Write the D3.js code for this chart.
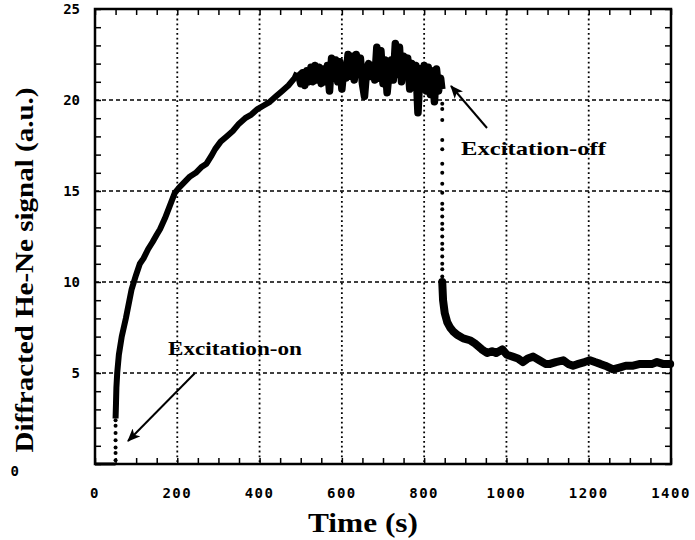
<!DOCTYPE html>
<html>
<head>
<meta charset="utf-8">
<script src="https://cdn.jsdelivr.net/npm/d3@7"></script>
<style>
  body { margin: 0; background: #fff; }
</style>
</head>
<body>
<svg id="chart" width="695" height="540"></svg>
<script>
// tick labels
const xTicks = [0, 200, 400, 600, 800, 1000, 1200, 1400];
const yTicks = [0, 5, 10, 15, 20, 25];

// signal before the excitation is switched on
const preTime = [0, 15, 30, 45, 50];
const preSignal = [0, 0, 0, 0, 0];

// dotted jump when the excitation starts
const onDotsTime = [50, 50, 50, 50, 50, 50, 50];
const onDotsSignal = [0.2, 0.6, 0.9, 1.3, 1.7, 2.1, 2.4];

// rise while excitation is on
const riseTime = [50, 51, 52, 54, 58, 65, 75, 89, 100, 109, 118, 129, 140, 150, 158, 170, 182, 194,
    205, 218, 231, 245, 258, 271, 282, 292, 305, 320, 335, 350, 365, 380, 395, 410, 425,
    440, 455, 470, 485, 491];
const riseSignal = [2.5, 3.3, 4.2, 5.0, 6.0, 7.0, 8.0, 9.6, 10.4, 11.0, 11.3, 11.8, 12.2, 12.6, 12.9, 13.5, 14.2, 14.9,
    15.2, 15.5, 15.8, 16.0, 16.3, 16.5, 16.9, 17.3, 17.7, 18.0, 18.3, 18.7, 19.0, 19.2, 19.5, 19.7, 19.9,
    20.2, 20.5, 20.8, 21.2, 21.5];

// noisy plateau
const plateauTime = [491, 495, 500, 505, 510, 515, 520, 525, 530, 535, 540, 545, 550, 555, 560, 565, 570, 575,
    580, 585, 590, 595, 600, 605, 610, 615, 620, 625, 630, 635, 640, 645, 650, 655, 660,
    665, 670, 675, 680, 685, 690, 695, 700, 705, 710, 715, 720, 725, 730, 735, 740, 745,
    750, 755, 760, 765, 770, 775, 780, 785, 790, 795, 800, 805, 810, 815, 820, 825, 830,
    835, 840, 843];
const plateauSignal = [21.5,
    21.4, 20.9, 21.5, 20.8, 21.6, 21.0, 21.8, 21.0, 21.9, 21.1, 21.8, 20.9, 21.7, 21.0, 21.9, 20.5, 22.3,
    21.2, 22.2, 21.0, 22.1, 20.6, 21.8, 21.2, 22.5, 21.3, 22.4, 21.1, 22.5, 21.4, 22.3, 20.9, 20.2, 21.6,
    22.0, 21.3, 21.9, 21.1, 22.9, 21.2, 22.7, 20.9, 22.2, 20.4, 21.6, 22.2, 21.1, 23.1, 21.4, 22.9, 21.0,
    22.4, 21.3, 22.3, 20.6, 22.0, 21.2, 21.9, 19.3, 21.7, 20.8, 21.9, 20.5, 21.8, 20.3, 21.6, 19.9, 21.7,
    20.5, 21.2, 20.6];

// dotted drop when the excitation is switched off
const offDotsTime = [844, 844, 844, 844, 844, 844, 844, 844, 844, 844, 844, 844, 844, 844, 844, 844, 844, 844, 844, 844, 844];
const offDotsSignal = [19.8, 19.5, 18.9, 17.8, 17.3, 16.5, 16.0, 15.4, 14.9, 14.3, 14.0, 13.6, 13.2, 12.9,
    12.5, 12.1, 11.8, 11.4, 11.0, 10.7, 10.3];

// decay after the excitation
const decayTime = [844, 846, 850, 856, 863, 870, 880, 895, 911, 925, 940, 953, 965, 975, 990, 1001,
    1015, 1028, 1040, 1052, 1065, 1080, 1095, 1106, 1120, 1138, 1150, 1162, 1175, 1190, 1203,
    1215, 1228, 1240, 1259, 1275, 1290, 1308, 1325, 1340, 1355, 1366, 1380, 1398];
const decaySignal = [10.0, 9.0, 8.3, 7.8, 7.5, 7.3, 7.1, 6.9, 6.8, 6.6, 6.3, 6.1, 6.2, 6.1, 6.3, 6.0,
    5.9, 5.8, 5.6, 5.8, 5.9, 5.7, 5.5, 5.5, 5.6, 5.7, 5.5, 5.4, 5.5, 5.6, 5.7,
    5.6, 5.5, 5.4, 5.2, 5.3, 5.4, 5.4, 5.5, 5.5, 5.5, 5.6, 5.5, 5.5];

const svg = d3.select('#chart');
const pLeft = 95, pRight = 671, pTop = 9, pBottom = 464;

const x = d3.scaleLinear().domain([0, 1400]).range([pLeft, pRight]);
const y = d3.scaleLinear().domain([0, 25]).range([pBottom, pTop]);

function pairs(ts, vs) {
    return ts.map((t, i) => [t, vs[i]]);
}

// grid
const grid = svg.append('g');
xTicks.slice(1, -1).forEach(t => {
    grid.append('line')
        .attr('x1', x(t)).attr('x2', x(t))
        .attr('y1', pTop).attr('y2', pBottom)
        .attr('stroke', '#000').attr('stroke-width', 1.8)
        .attr('stroke-dasharray', '1.8,3');
});
yTicks.slice(1, -1).forEach(v => {
    grid.append('line')
        .attr('x1', pLeft).attr('x2', pRight)
        .attr('y1', y(v)).attr('y2', y(v))
        .attr('stroke', '#000').attr('stroke-width', 1.5)
        .attr('stroke-dasharray', '4,3');
});

// minor ticks, inward on all four sides
const xMinor = d3.range(0, 1401, 50);
const yMinor = d3.range(0, 26, 1);
svg.append('g').attr('transform', `translate(0,${pBottom})`)
    .call(d3.axisBottom(x).tickValues(xMinor).tickSize(-6).tickFormat(''));
svg.append('g').attr('transform', `translate(0,${pTop})`)
    .call(d3.axisTop(x).tickValues(xMinor).tickSize(-6).tickFormat(''));
svg.append('g').attr('transform', `translate(${pLeft},0)`)
    .call(d3.axisLeft(y).tickValues(yMinor).tickSize(-6).tickFormat(''));
svg.append('g').attr('transform', `translate(${pRight},0)`)
    .call(d3.axisRight(y).tickValues(yMinor).tickSize(-6).tickFormat(''));
svg.selectAll('.domain').remove();
svg.selectAll('.tick line').attr('stroke', '#000').attr('stroke-width', 1.5);

// frame
svg.append('rect')
    .attr('x', pLeft).attr('y', pTop)
    .attr('width', pRight - pLeft).attr('height', pBottom - pTop)
    .attr('fill', 'none').attr('stroke', '#000').attr('stroke-width', 2.5);

// tick labels
svg.append('g').selectAll('text').data(xTicks).enter().append('text')
    .attr('x', d => x(d))
    .attr('y', 498)
    .attr('text-anchor', 'middle')
    .attr('font-family', 'DejaVu Sans Mono')
    .attr('font-weight', 'bold')
    .attr('font-size', '14px')
    .attr('letter-spacing', '1.5px')
    .text(d => d);

svg.append('g').selectAll('text').data(yTicks).enter().append('text')
    .attr('x', d => d == 0 ? 19 : 80)
    .attr('y', d => d == 0 ? 476 : y(d) + 5)
    .attr('text-anchor', 'end')
    .attr('font-family', 'DejaVu Sans Mono')
    .attr('font-weight', 'bold')
    .attr('font-size', '14px')
    .text(d => d);

// data
const line = d3.line().x(d => x(d[0])).y(d => y(d[1]));
const plot = svg.append('g');

plot.append('path')
    .attr('d', line(pairs(preTime, preSignal)))
    .attr('fill', 'none').attr('stroke', '#000').attr('stroke-width', 3);

plot.append('path')
    .attr('d', line(pairs(riseTime, riseSignal)))
    .attr('fill', 'none').attr('stroke', '#000').attr('stroke-width', 6)
    .attr('stroke-linejoin', 'round');

plot.append('path')
    .attr('d', line(pairs(plateauTime, plateauSignal)))
    .attr('fill', 'none').attr('stroke', '#000').attr('stroke-width', 7.5)
    .attr('stroke-linejoin', 'round');

plot.append('path')
    .attr('d', line(pairs(decayTime, decaySignal)))
    .attr('fill', 'none').attr('stroke', '#000').attr('stroke-width', 8)
    .attr('stroke-linejoin', 'round').attr('stroke-linecap', 'round');

plot.selectAll('circle.on').data(pairs(onDotsTime, onDotsSignal)).enter().append('circle')
    .attr('class', 'on')
    .attr('cx', d => x(d[0])).attr('cy', d => y(d[1])).attr('r', 2);

plot.selectAll('circle.off').data(pairs(offDotsTime, offDotsSignal)).enter().append('circle')
    .attr('class', 'off')
    .attr('cx', d => x(d[0])).attr('cy', d => y(d[1])).attr('r', 2);

// arrows and annotations
svg.append('defs').append('marker')
    .attr('id', 'head')
    .attr('viewBox', '0 0 12 10')
    .attr('refX', 11).attr('refY', 5)
    .attr('markerWidth', 14).attr('markerHeight', 11)
    .attr('markerUnits', 'userSpaceOnUse')
    .attr('orient', 'auto')
    .append('path')
    .attr('d', 'M0,0 L12,5 L0,10 L3,5 Z')
    .attr('fill', '#000');

svg.append('line')
    .attr('x1', 195).attr('y1', 373).attr('x2', 128).attr('y2', 441)
    .attr('stroke', '#000').attr('stroke-width', 2)
    .attr('marker-end', 'url(#head)');
svg.append('line')
    .attr('x1', 487).attr('y1', 128).attr('x2', 451).attr('y2', 86)
    .attr('stroke', '#000').attr('stroke-width', 2)
    .attr('marker-end', 'url(#head)');

svg.append('text')
    .attr('x', 168).attr('y', 355)
    .attr('font-family', 'Liberation Serif')
    .attr('font-weight', 'bold')
    .attr('font-size', '19px')
    .attr('textLength', 134)
    .attr('lengthAdjust', 'spacingAndGlyphs')
    .text('Excitation-on');
svg.append('text')
    .attr('x', 461).attr('y', 155)
    .attr('font-family', 'Liberation Serif')
    .attr('font-weight', 'bold')
    .attr('font-size', '19px')
    .attr('textLength', 145)
    .attr('lengthAdjust', 'spacingAndGlyphs')
    .text('Excitation-off');

// axis titles
svg.append('text')
    .attr('x', 363).attr('y', 532)
    .attr('text-anchor', 'middle')
    .attr('font-family', 'Liberation Serif')
    .attr('font-weight', 'bold')
    .attr('font-size', '28px')
    .attr('textLength', 110)
    .attr('lengthAdjust', 'spacingAndGlyphs')
    .text('Time (s)');
svg.append('text')
    .attr('transform', 'translate(33,270) rotate(-90)')
    .attr('text-anchor', 'middle')
    .attr('font-family', 'Liberation Serif')
    .attr('font-weight', 'bold')
    .attr('font-size', '26px')
    .attr('textLength', 365)
    .attr('lengthAdjust', 'spacingAndGlyphs')
    .text('Diffracted He-Ne signal (a.u.)');
</script>
</body>
</html>
